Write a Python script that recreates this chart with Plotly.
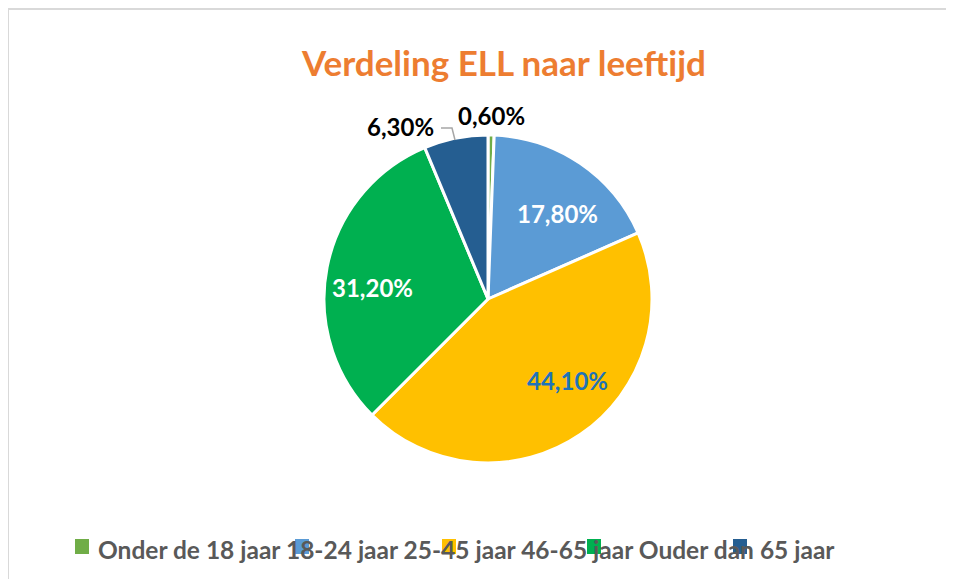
import plotly.graph_objects as go

categories = ["Onder de 18 jaar", "18-24 jaar", "25-45 jaar", "46-65 jaar", "Ouder dan 65 jaar"]
values = [0.6, 17.8, 44.1, 31.2, 6.3]
label_texts = ["0,60%", "17,80%", "44,10%", "31,20%", "6,30%"]
colors = ["#70AD47", "#5B9BD5", "#FFC000", "#00B050", "#255E91"]
text_colors = ["#000000", "#FFFFFF", "#1F73B8", "#FFFFFF", "#000000"]

# page has an 8px body margin; figure sized to fit the 954x579 window
OFF = 8
W, H = 954 - OFF, 579 - OFF


def fx(px):
    return (px - OFF) / W


def fy(py):
    return 1 - (py - OFF) / H


# pie geometry (screen pixels)
CX, CY, R = 488, 299, 164
# data-label anchor positions (screen pixels, layout only)
label_pos = [(491, 115), (557, 214), (567, 380), (372, 287), (400, 127)]

fig = go.Figure()
fig.add_trace(go.Pie(
    labels=categories,
    values=values,
    textinfo="none",
    marker=dict(colors=colors, line=dict(color="white", width=3)),
    sort=False,
    direction="clockwise",
    rotation=0,
    domain=dict(x=[fx(CX) - 0.2, fx(CX) + 0.2], y=[fy(CY + R), fy(CY - R)]),
    showlegend=False,
    hoverinfo="label+percent",
))

for (px, py), t, tc in zip(label_pos, label_texts, text_colors):
    fig.add_annotation(
        text="<b>" + t + "</b>", x=fx(px), y=fy(py), xref="paper", yref="paper",
        xanchor="center", yanchor="middle", showarrow=False,
        font=dict(family="Lato", size=24, color=tc),
    )

# leader line for the 6,30% label
fig.add_shape(type="path", xref="paper", yref="paper",
              path=f"M {fx(441)},{fy(128)} L {fx(452)},{fy(128)} L {fx(455)},{fy(140)}",
              line=dict(color="#A6A6A6", width=1.5))

# title
fig.add_annotation(
    text="<b>Verdeling ELL naar leeftijd</b>",
    x=fx(503), y=fy(62), xref="paper", yref="paper",
    xanchor="center", yanchor="middle", showarrow=False,
    font=dict(family="Lato", size=35, color="#ED7D31"),
)

# legend (text run with colour keys, as in the reference)
legend_x = [75, 295, 442, 587, 733]
fig.add_annotation(
    text="<b>" + " ".join(categories) + "</b>",
    x=fx(96), y=fy(549), xref="paper", yref="paper",
    xanchor="left", yanchor="middle", showarrow=False,
    font=dict(family="Lato", size=24.5, color="#595959"),
)
for lx, c in zip(legend_x, colors):
    fig.add_shape(type="rect", xref="paper", yref="paper",
                  x0=fx(lx), x1=fx(lx + 14), y0=fy(554), y1=fy(539),
                  fillcolor=c, line=dict(width=0))

# chart border
fig.add_shape(type="line", xref="paper", yref="paper",
              x0=fx(8), x1=1, y0=fy(9), y1=fy(9),
              line=dict(color="#D9D9D9", width=2))
fig.add_shape(type="line", xref="paper", yref="paper",
              x0=fx(8), x1=fx(8), y0=fy(9), y1=0,
              line=dict(color="#D9D9D9", width=2))

fig.update_layout(
    width=W, height=H,
    margin=dict(l=0, r=0, t=0, b=0),
    paper_bgcolor="white",
    plot_bgcolor="white",
    font=dict(family="Lato"),
)

fig.write_html("out.html")
